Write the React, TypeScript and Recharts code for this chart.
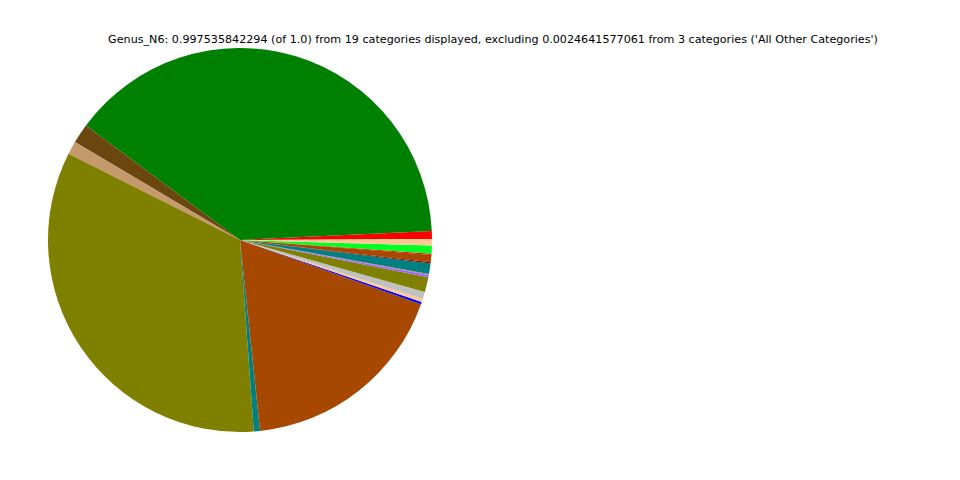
import React from 'react';
import { PieChart, Pie, Cell } from 'recharts';

// slices counter-clockwise from the 3 o'clock position
const categories = [
    'Genus_A', 'Genus_B', 'Genus_C', 'Genus_D', 'Genus_E', 'Genus_F', 'Genus_G',
    'Genus_H', 'Genus_I', 'Genus_J', 'Genus_K', 'Genus_L', 'Genus_M', 'Genus_N',
    'Genus_O', 'Genus_P', 'Genus_Q', 'Genus_R', 'Genus_S',
];
const values = [
    0.0067, 0.3903, 0.0164, 0.0111, 0.3354, 0.0052, 0.1789,
    0.0019, 0.0027, 0.0060, 0.0125, 0.0019, 0.0009, 0.0088,
    0.0009, 0.0062, 0.0009, 0.0069, 0.0054,
];
const colors = [
    '#ff0000', '#008000', '#6b4710', '#c49a6c', '#808000', '#008080', '#a64800',
    '#0000ff', '#ffc896', '#c0c0c0', '#808000', '#9966ff', '#c08080', '#008080',
    '#800000', '#a64800', '#ff0000', '#00ff22', '#ffc896',
];
const title =
    "Genus_N6: 0.997535842294 (of 1.0) from 19 categories displayed, excluding 0.0024641577061 from 3 categories ('All Other Categories')";

const data = categories.map((name, i) => ({ name, value: values[i], color: colors[i] }));

const START = 0.3;

const App: React.FC = () => (
    <div style={{ position: 'absolute', left: 0, top: 0, width: 960, height: 480, background: '#fff' }}>
        <div
            style={{
                position: 'absolute',
                left: 0,
                width: 986,
                top: 33,
                textAlign: 'center',
                fontFamily: 'DejaVu Sans',
                fontSize: 11.15,
                color: '#000',
                whiteSpace: 'nowrap',
            }}
        >
            {title}
        </div>
        <PieChart width={960} height={480}>
            <Pie
                data={data}
                cx={235}
                cy={235}
                outerRadius={192}
                innerRadius={0}
                startAngle={START}
                endAngle={START + 360}
                dataKey="value"
                stroke="none"
                isAnimationActive={false}
            >
                {data.map((entry, index) => (
                    <Cell key={`cell-${index}`} fill={entry.color} />
                ))}
            </Pie>
        </PieChart>
    </div>
);

export default App;
